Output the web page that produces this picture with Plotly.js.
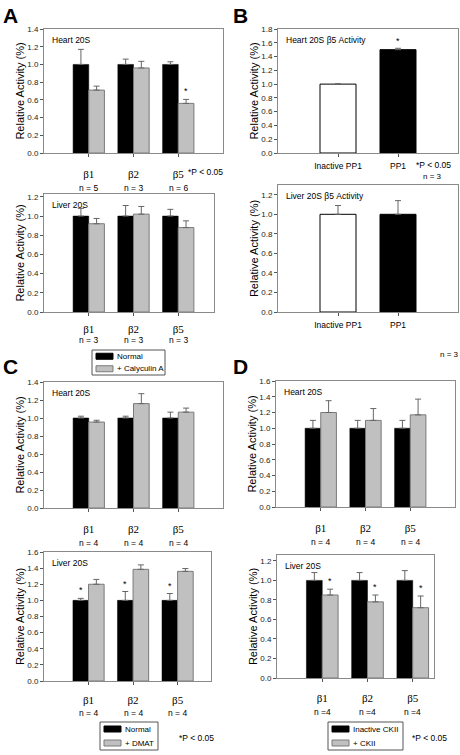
<!DOCTYPE html>
<html><head><meta charset="utf-8">
<script src="https://cdn.plot.ly/plotly-3.0.1.min.js"></script>
<style>html,body{margin:0;padding:0;background:#fff}#chart{width:460px;height:755px}</style>
</head><body><div id="chart"></div><script>
// ---------- DATA ----------
const betaCats = ['\u03b21', '\u03b22', '\u03b25'];
const ppCats = ['Inactive PP1', 'PP1'];

const aHeartNormal = [1.0, 1.0, 1.0];
const aHeartNormalErr = [0.17, 0.06, 0.03];
const aHeartCaly = [0.71, 0.96, 0.56];
const aHeartCalyErr = [0.045, 0.075, 0.045];
const aHeartN = ['n = 5', 'n = 3', 'n = 6'];
const aHeartStars = [false, false, true];

const aLiverNormal = [1.0, 1.0, 1.0];
const aLiverNormalErr = [0.08, 0.11, 0.07];
const aLiverCaly = [0.92, 1.02, 0.88];
const aLiverCalyErr = [0.055, 0.08, 0.07];
const aLiverN = ['n = 3', 'n = 3', 'n = 3'];

const bHeart = [1.0, 1.5];
const bHeartErr = [0.005, 0.02];
const bHeartStars = [false, true];
const bLiver = [1.0, 1.0];
const bLiverErr = [0.09, 0.14];

const cHeartNormal = [1.0, 1.0, 1.0];
const cHeartNormalErr = [0.02, 0.02, 0.065];
const cHeartDmat = [0.955, 1.16, 1.065];
const cHeartDmatErr = [0.02, 0.11, 0.045];
const cHeartN = ['n = 4', 'n = 4', 'n = 4'];

const cLiverNormal = [1.0, 1.0, 1.0];
const cLiverNormalErr = [0.025, 0.11, 0.085];
const cLiverDmat = [1.2, 1.385, 1.36];
const cLiverDmatErr = [0.06, 0.055, 0.035];
const cLiverN = ['n = 4', 'n = 4', 'n = 4'];
const cLiverStars = [true, true, true];

const dHeartInactive = [1.0, 1.0, 1.0];
const dHeartInactiveErr = [0.1, 0.1, 0.1];
const dHeartCkii = [1.2, 1.1, 1.17];
const dHeartCkiiErr = [0.15, 0.15, 0.2];
const dHeartN = ['n = 4', 'n = 4', 'n = 4'];

const dLiverInactive = [1.0, 1.0, 1.0];
const dLiverInactiveErr = [0.08, 0.08, 0.1];
const dLiverCkii = [0.85, 0.78, 0.72];
const dLiverCkiiErr = [0.06, 0.07, 0.12];
const dLiverN = ['n =4', 'n =4', 'n =4'];
const dLiverStars = [true, true, true];

// ---------- LAYOUT HELPERS ----------
const W = 460, H = 755;
const SANS = 'Liberation Sans, Arial, sans-serif';
const SERIF = 'Liberation Serif, Times New Roman, serif';
const px = v => v / W;
const py = v => 1 - v / H;
const BW = 0.35;

const traces = [];
const layout = {
  width: W, height: H, margin: {l: 0, r: 0, t: 0, b: 0},
  paper_bgcolor: '#fff', plot_bgcolor: '#fff', showlegend: false,
  barmode: 'overlay', hovermode: false,
  font: {family: SANS, color: '#000'},
  annotations: [], shapes: []
};

function errY(arr, color) {
  return {type: 'data', symmetric: false, array: arr, arrayminus: arr.map(() => 0),
          color: color, thickness: 1, width: 3, visible: true};
}

function addAxes(i, p) {
  const s = i === 1 ? '' : String(i);
  layout['xaxis' + s] = {
    domain: [px(p.x[0]), px(p.x[1])], anchor: 'y' + s, type: 'category',
    range: p.xr, showgrid: false, zeroline: false, showline: true, mirror: true,
    linecolor: '#8a8a8a', linewidth: 1, ticks: 'outside', ticklen: 3, tickcolor: '#555',
    tickfont: p.beta ? {family: SERIF, size: 11, color: '#000'} : {family: SANS, size: 8.5, color: '#000'},
    ticklabelstandoff: p.tls !== undefined ? p.tls : (p.beta ? 8 : 2), fixedrange: true
  };
  layout['yaxis' + s] = {
    domain: [py(p.y[1]), py(p.y[0])], anchor: 'x' + s, range: p.yr,
    tick0: 0, dtick: 0.2, tickformat: '.1f', showgrid: false, zeroline: false,
    showline: true, mirror: true, linecolor: '#8a8a8a', linewidth: 1,
    ticks: 'outside', ticklen: 3, tickcolor: '#555',
    tickfont: {family: SANS, size: 8, color: '#222'},
    title: {text: 'Relative Activity (%)', font: {family: SANS, size: 11, color: '#000'}, standoff: 0},
    fixedrange: true
  };
  layout.annotations.push({
    text: p.label, xref: 'x' + s + ' domain', yref: 'y' + s + ' domain', x: 0, y: 1,
    xshift: 6, yshift: -4, xanchor: 'left', yanchor: 'top', showarrow: false,
    font: {family: SANS, size: 8.5, color: '#000'}
  });
  if (p.n) {
    p.n.forEach((t, k) => layout.annotations.push({
      text: t, xref: 'x' + s, yref: 'y' + s + ' domain', x: k, y: 0,
      yshift: p.nShift !== undefined ? p.nShift : -35,
      xanchor: 'center', yanchor: 'middle', showarrow: false,
      font: {family: SANS, size: 8.5, color: '#000'}
    }));
  }
}

function betaPanel(i, p, v1, e1, v2, e2, stars1, stars2) {
  const s = i === 1 ? '' : String(i);
  traces.push({type: 'bar', x: betaCats, y: v1, xaxis: 'x' + s, yaxis: 'y' + s,
    width: BW, offset: -BW, marker: {color: '#000', line: {color: '#000', width: 0.5}},
    error_y: errY(e1, '#666')});
  traces.push({type: 'bar', x: betaCats, y: v2, xaxis: 'x' + s, yaxis: 'y' + s,
    width: BW, offset: 0, marker: {color: '#c0c0c0', line: {color: '#7a7a7a', width: 1}},
    error_y: errY(e2, '#666')});
  p.beta = true;
  addAxes(i, p);
  const addStars = (st, vals, errs, off) => {
    if (!st) return;
    st.forEach((on, k) => { if (on) layout.annotations.push({
      text: '*', xref: 'x' + s, yref: 'y' + s, x: k + off, y: vals[k] + errs[k],
      yshift: 1, xanchor: 'center', yanchor: 'bottom', showarrow: false,
      font: {family: SANS, size: 9, color: '#000'}
    }); });
  };
  addStars(stars1, v1, e1, -BW / 2);
  addStars(stars2, v2, e2, BW / 2);
}

function ppPanel(i, p, v, e, stars) {
  const s = i === 1 ? '' : String(i);
  traces.push({type: 'bar', x: ppCats, y: v, xaxis: 'x' + s, yaxis: 'y' + s,
    width: 0.6, marker: {color: ['#fff', '#000'], line: {color: '#000', width: 1}},
    error_y: errY(e, '#666')});
  p.beta = false;
  addAxes(i, p);
  if (stars) stars.forEach((on, k) => { if (on) layout.annotations.push({
    text: '*', xref: 'x' + s, yref: 'y' + s, x: k, y: v[k] + e[k],
    yshift: 0, xanchor: 'center', yanchor: 'bottom', showarrow: false,
    font: {family: SANS, size: 9, color: '#000'}
  }); });
}

// ---------- PANELS ----------
betaPanel(1, {x: [44, 223], y: [29, 153], xr: [-1, 3], yr: [0, 1.4], label: 'Heart 20S', n: aHeartN},
  aHeartNormal, aHeartNormalErr, aHeartCaly, aHeartCalyErr, null, aHeartStars);
betaPanel(2, {x: [44, 214], y: [194, 312], xr: [-1, 2.8], yr: [0, 1.23], label: 'Liver 20S', n: aLiverN, tls: 4, nShift: -28},
  aLiverNormal, aLiverNormalErr, aLiverCaly, aLiverCalyErr, null, null);
ppPanel(3, {x: [278, 458], y: [29, 153], xr: [-1, 2], yr: [0, 1.8], label: 'Heart 20S \u03b25 Activity'},
  bHeart, bHeartErr, bHeartStars);
ppPanel(4, {x: [278, 458], y: [185, 312], xr: [-1, 2], yr: [0, 1.3], label: 'Liver 20S \u03b25 Activity'},
  bLiver, bLiverErr, null);
betaPanel(5, {x: [44, 223], y: [382, 508], xr: [-1, 3], yr: [0, 1.4], label: 'Heart 20S', n: cHeartN},
  cHeartNormal, cHeartNormalErr, cHeartDmat, cHeartDmatErr, null, null);
betaPanel(6, {x: [44, 211], y: [552, 681], xr: [-1, 2.75], yr: [0, 1.6], label: 'Liver 20S', n: cLiverN, tls: 6, nShift: -32},
  cLiverNormal, cLiverNormalErr, cLiverDmat, cLiverDmatErr, cLiverStars, null);
betaPanel(7, {x: [276, 455], y: [381, 507], xr: [-1, 3], yr: [0, 1.6], label: 'Heart 20S', n: dHeartN},
  dHeartInactive, dHeartInactiveErr, dHeartCkii, dHeartCkiiErr, null, null);
betaPanel(8, {x: [277, 434], y: [555, 678], xr: [-1, 2.47], yr: [0, 1.26], label: 'Liver 20S', n: dLiverN, tls: 7, nShift: -34},
  dLiverInactive, dLiverInactiveErr, dLiverCkii, dLiverCkiiErr, null, dLiverStars);

// ---------- FREE TEXT ----------
function txt(t, x, y, size, opts) {
  layout.annotations.push(Object.assign({
    text: t, xref: 'paper', yref: 'paper', x: px(x), y: py(y),
    xanchor: 'left', yanchor: 'middle', showarrow: false,
    font: {family: SANS, size: size, color: '#000'}
  }, opts || {}));
}
txt('<b>A</b>', 1, 2, 21, {yanchor: 'top'});
txt('<b>B</b>', 231, 2, 21, {yanchor: 'top'});
txt('<b>C</b>', 1, 366, 21);
txt('<b>D</b>', 231, 366, 21);
txt('*P < 0.05', 186, 172, 8.5);
txt('*P < 0.05', 414, 165, 8.5);
txt('n = 3', 432, 176, 8, {xanchor: 'center'});
txt('n = 3', 449, 355, 8, {xanchor: 'center'});
txt('*P < 0.05', 177, 738, 8.5);
txt('*P < 0.05', 410, 738, 8.5);

// ---------- LEGENDS ----------
function legendBox(x0, y0, x1, y1, items) {
  layout.shapes.push({type: 'rect', xref: 'paper', yref: 'paper',
    x0: px(x0), x1: px(x1), y0: py(y1), y1: py(y0), line: {color: '#555', width: 1}, fillcolor: 'rgba(0,0,0,0)'});
  const rowH = (y1 - y0) / items.length;
  items.forEach((it, k) => {
    const cy = y0 + rowH * (k + 0.5);
    layout.shapes.push({type: 'rect', xref: 'paper', yref: 'paper',
      x0: px(x0 + 4), x1: px(x0 + 21), y0: py(cy + 3), y1: py(cy - 3),
      fillcolor: it.color, line: {color: it.line, width: 1}});
    txt(it.name, x0 + 23, cy, 8);
  });
}
legendBox(92, 350, 165, 375, [{name: 'Normal', color: '#000', line: '#000'}, {name: '+ Calyculin A', color: '#c0c0c0', line: '#7a7a7a'}]);
legendBox(100, 722, 158, 750, [{name: 'Normal', color: '#000', line: '#000'}, {name: '+ DMAT', color: '#c0c0c0', line: '#7a7a7a'}]);
legendBox(328, 722, 403, 750, [{name: 'Inactive CKII', color: '#000', line: '#000'}, {name: '+ CKII', color: '#c0c0c0', line: '#7a7a7a'}]);

Plotly.newPlot('chart', traces, layout, {staticPlot: true, displayModeBar: false});
</script></body></html>
